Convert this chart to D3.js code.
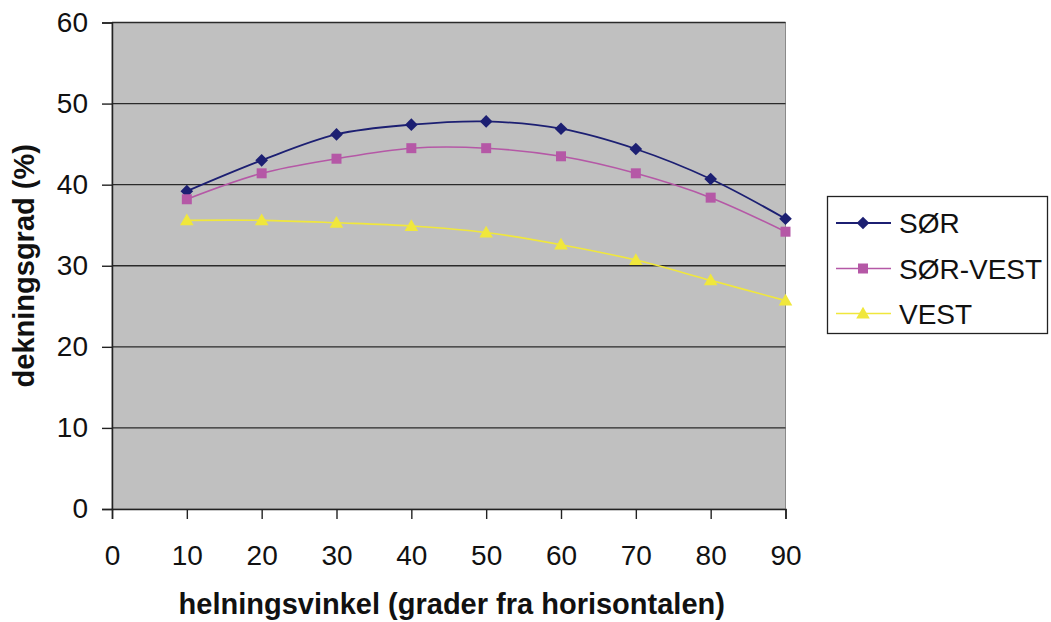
<!DOCTYPE html>
<html><head><meta charset="utf-8">
<script src="https://cdn.jsdelivr.net/npm/d3@7"></script>
<style>
html,body{margin:0;padding:0;background:#fff;}
svg{display:block;font-family:"Liberation Sans",Arial,sans-serif;}
</style></head>
<body>
<svg id="c" width="1051" height="622"></svg>
<script>
const angles = [10,20,30,40,50,60,70,80,90];
const sor = [39.2,43.0,46.2,47.4,47.8,46.9,44.4,40.7,35.8];
const sorVest = [38.2,41.4,43.2,44.5,44.5,43.5,41.4,38.4,34.2];
const vest = [35.6,35.6,35.3,34.9,34.1,32.6,30.7,28.2,25.7];
const seriesNames = ["SØR","SØR-VEST","VEST"];
const xTicks = [0,10,20,30,40,50,60,70,80,90];
const yTicks = [0,10,20,30,40,50,60];
const xTitle = "helningsvinkel (grader fra horisontalen)";
const yTitle = "dekningsgrad (%)";

const svg = d3.select("#c");
const L=112, R=785.5, T=22.5, B=509;
const x = d3.scaleLinear().domain([0,90]).range([L,R]);
const y = d3.scaleLinear().domain([0,60]).range([B,T]);

const series = [
  {name:seriesNames[0], vals:sor, color:"#1c1f72", width:1.8, sym:"diamond"},
  {name:seriesNames[1], vals:sorVest, color:"#b558a6", width:1.6, sym:"square"},
  {name:seriesNames[2], vals:vest, color:"#f0e73c", width:1.6, sym:"triangle"}
];

// plot background
svg.append("rect").attr("x",L).attr("y",T).attr("width",R-L).attr("height",B-T)
  .attr("fill","#c0c0c0").attr("stroke","#8a8a8a").attr("stroke-width",1);

// gridlines
svg.append("g").selectAll("line").data(yTicks.filter(d=>d>0)).join("line")
  .attr("x1",L).attr("x2",R).attr("y1",d=>y(d)).attr("y2",d=>y(d))
  .attr("stroke","#2a2a2a").attr("stroke-width",1.4);

// axes
const fs = 28;
const yAxis = svg.append("g").attr("transform",`translate(${L},0)`)
  .call(d3.axisLeft(y).tickValues(yTicks).tickSize(10).tickPadding(14).tickFormat(d3.format("d")));
const xAxis = svg.append("g").attr("transform",`translate(0,${B})`)
  .call(d3.axisBottom(x).tickValues(xTicks).tickSize(10).tickPadding(26).tickFormat(d3.format("d")));
[yAxis,xAxis].forEach(g=>{
  g.select(".domain").attr("stroke","#222").attr("stroke-width",1.5);
  g.selectAll(".tick line").attr("stroke","#222").attr("stroke-width",1.4);
  g.selectAll("text").attr("font-size",fs).attr("fill","#111")
    .attr("font-family","'Liberation Sans',Arial,sans-serif");
});

// lines
const line = d3.line().x((d,i)=>x(angles[i])).y(d=>y(d)).curve(d3.curveCatmullRom.alpha(0.5));
const diamond = {draw(ctx,size){const r=Math.sqrt(size/2);ctx.moveTo(0,-r);ctx.lineTo(r,0);ctx.lineTo(0,r);ctx.lineTo(-r,0);ctx.closePath();}};
const symType = {diamond:diamond, square:d3.symbolSquare, triangle:d3.symbolTriangle};
const symSize = {diamond:80, square:100, triangle:80};
series.forEach(s=>{
  svg.append("path").datum(s.vals).attr("d",line).attr("fill","none")
    .attr("stroke",s.color).attr("stroke-width",s.width);
});
series.forEach(s=>{
  const sym = d3.symbol().type(symType[s.sym]).size(symSize[s.sym]);
  svg.append("g").selectAll("path").data(s.vals).join("path")
    .attr("d",sym)
    .attr("transform",(d,i)=>`translate(${x(angles[i])},${y(d) + (s.sym==="triangle"?1:0)})`)
    .attr("fill",s.color);
});

// axis titles
svg.append("text").attr("x",(L+R)/2 + 3).attr("y",614).attr("text-anchor","middle")
  .attr("font-size",29).attr("font-weight","bold").attr("fill","#111").text(xTitle);
svg.append("text").attr("transform",`translate(34,${(T+B)/2}) rotate(-90)`)
  .attr("text-anchor","middle").attr("font-size",29).attr("font-weight","bold").attr("fill","#111").text(yTitle);

// legend
const lg = svg.append("g");
lg.append("rect").attr("x",827.5).attr("y",196.5).attr("width",220).attr("height",137)
  .attr("fill","#fff").attr("stroke","#222").attr("stroke-width",1.3);
const ly = [223,268.5,313.5];
series.forEach((s,i)=>{
  lg.append("line").attr("x1",836).attr("x2",891).attr("y1",ly[i]).attr("y2",ly[i])
    .attr("stroke",s.color).attr("stroke-width",s.width);
  const sym = d3.symbol().type(symType[s.sym]).size(symSize[s.sym]);
  lg.append("path").attr("d",sym).attr("transform",`translate(863,${ly[i]+(s.sym==="triangle"?1:0)})`).attr("fill",s.color);
  lg.append("text").attr("x",899).attr("y",ly[i]+10).attr("font-size",fs).attr("fill","#111").text(s.name);
});
</script>
</body></html>
